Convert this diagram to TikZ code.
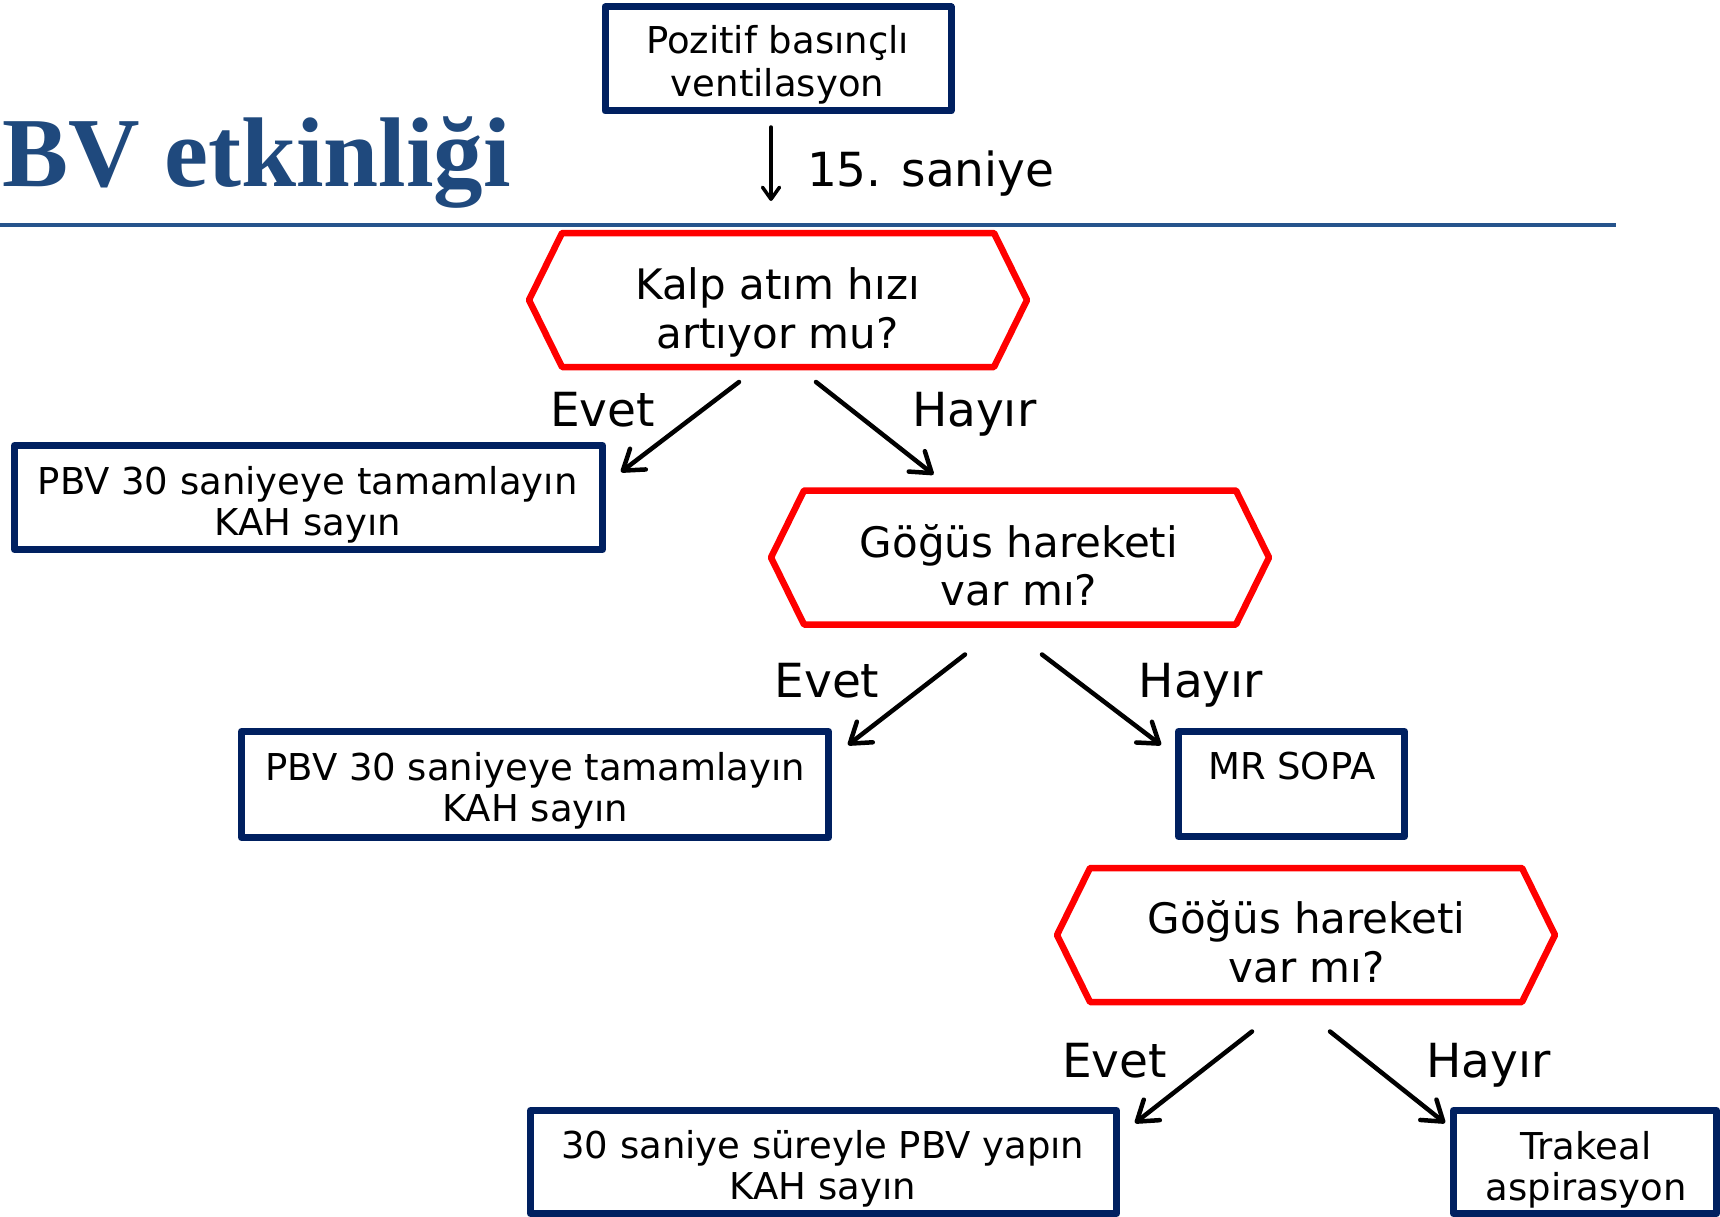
\documentclass[tikz,border=0pt]{standalone}
\usepackage{fontspec}
\setmainfont{DejaVu Sans}
\newfontfamily\titlefont{Liberation Serif}
\usetikzlibrary{arrows.meta}

\definecolor{navy}{RGB}{0,32,96}
\definecolor{titleblue}{RGB}{31,73,125}
\definecolor{ruleblue}{RGB}{38,84,140}
\definecolor{qred}{RGB}{255,0,0}

\tikzset{
  every node/.style={inner sep=0pt, outer sep=0pt},
  actbox/.style={draw=navy, line width=7pt, line join=round},
  qframe/.style={draw=qred, line width=6.5pt, line join=round},
  qshape/.style={minimum width=432pt, minimum height=134pt},
  boxtxt/.style={align=center, anchor=base, font=\fontsize{37}{41}\selectfont},
  qtxt/.style={align=center, anchor=base, font=\fontsize{42}{48.5}\selectfont},
  lbl/.style={anchor=base west, font=\fontsize{47}{50}\selectfont},
  flow/.style={line width=4.5pt, line cap=round,
    -{Straight Barb[length=19pt,width=26pt,round]}},
}

% hexagonal frame round a decision node
\newcommand\hexframe[1]{%
  \draw[qframe] (#1.north west) -- (#1.north east) -- ([xshift=33pt]#1.east)
    -- (#1.south east) -- (#1.south west) -- ([xshift=-33pt]#1.west) -- cycle;}

\begin{document}
\begin{tikzpicture}[x=1pt, y=-1pt]
\useasboundingbox[fill=white] (0,0) rectangle (1720,1217);

% heading and rule
\node[anchor=base west, text=titleblue,
      font=\titlefont\bfseries\fontsize{99}{100}\selectfont] (title) at (2,186.5) {BV etkinliği};
\draw[ruleblue, line width=4pt] (0,224.7) coordinate (ruleL) -- (1616,224.7) coordinate (ruleR);

% start (text nodes are anchored on the baseline of their last line)
\node[actbox, minimum width=346pt, minimum height=104pt] (start) at (778,59) {};
\node[boxtxt, font=\fontsize{37}{42.5}\selectfont] (startt) at (777.5,96.5) {Pozitif basınçlı\\ventilasyon};

% first question
\node[qshape] (q1) at (778,300) {};
\hexframe{q1}
\node[qtxt] (q1t) at (777.5,348) {Kalp atım hızı\\artıyor mu?};
\draw[line width=3.5pt, line cap=round, -{Straight Barb[length=12pt,width=17pt,round]}]
  ([shift={(-7,16)}]start.south) -- ([shift={(-7,-32)}]q1.north);
\node[lbl] (t15) at (807,186) {15. saniye};

% answers of the first question
\node[actbox, minimum width=588pt, minimum height=104pt] (b1) at (308.5,497.5) {};
\node[boxtxt] (b1t) at (307.7,535) {PBV 30 saniyeye tamamlayın\\KAH sayın};

\node[qshape] (q2) at (1020,557.5) {};
\hexframe{q2}
\node[qtxt] (q2t) at (1019,605.5) {Göğüs hareketi\\var mı?};

\draw[flow] ([shift={(-39,15)}]q1.south) -- ([shift={(18.5,26.5)}]b1.north east);
\draw[flow] ([shift={(38,15)}]q1.south) -- ([shift={(-86.5,-16)}]q2.north);
\node[lbl] (e1) at (550,426.7) {Evet};
\node[lbl] (h1) at (912,426.7) {Hayır};

% answers of the second question
\node[actbox, minimum width=587pt, minimum height=106pt] (b2) at (535,784.5) {};
\node[boxtxt] (b2t) at (535.3,821.6) {PBV 30 saniyeye tamamlayın\\KAH sayın};

\node[actbox, minimum width=226pt, minimum height=105pt] (mr) at (1291.5,784) {};
\node[boxtxt] (mrt) at (1291.7,779) {MR SOPA};

\draw[flow] ([shift={(-55,30)}]q2.south) -- ([shift={(19.5,13.5)}]b2.north east);
\draw[flow] ([shift={(22,30)}]q2.south) -- ([shift={(-17.5,13.5)}]mr.north west);
\node[lbl] (e2) at (774.5,697.7) {Evet};
\node[lbl] (h2) at (1138.7,697.7) {Hayır};

% third question
\node[qshape] (q3) at (1306,935) {};
\hexframe{q3}
\node[qtxt] (q3t) at (1306.5,982) {Göğüs hareketi\\var mı?};

\node[actbox, minimum width=586pt, minimum height=103pt] (b3) at (823.5,1162) {};
\node[boxtxt] (b3t) at (822.75,1199) {30 saniye süreyle PBV yapın\\KAH sayın};

\node[actbox, minimum width=263pt, minimum height=103pt] (tr) at (1585,1162) {};
\node[boxtxt] (trt) at (1586,1200) {Trakeal\\aspirasyon};

\draw[flow] ([shift={(-54,29.5)}]q3.south) -- ([shift={(18.5,12.5)}]b3.north east);
\draw[flow] ([shift={(24,29.5)}]q3.south) -- ([shift={(-8.5,12.5)}]tr.north west);
\node[lbl] (e3) at (1062,1077) {Evet};
\node[lbl] (h3) at (1426,1077) {Hayır};
\end{tikzpicture}
\end{document}
